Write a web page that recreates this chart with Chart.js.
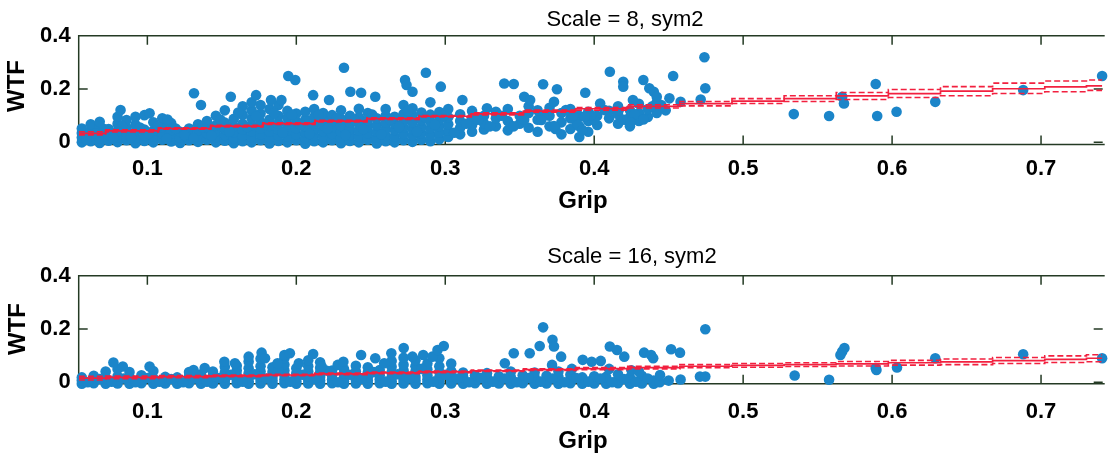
<!DOCTYPE html>
<html>
<head>
<meta charset="utf-8">
<script src="https://cdn.jsdelivr.net/npm/chart.js@4.4.1/dist/chart.umd.min.js"></script>
<style>
  html, body { margin: 0; padding: 0; background: #fff; }
  canvas { display: block; }
</style>
</head>
<body>
<canvas id="chart8" width="1108" height="230"></canvas>
<canvas id="chart16" width="1108" height="231"></canvas>
<script>
// axis ranges and ticks
const gripMin = 0.0539, gripMax = 0.7414;
const gripTicks = [0.1, 0.2, 0.3, 0.4, 0.5, 0.6, 0.7];
const wtfTicks = [0, 0.2, 0.4];

// fitted line + confidence bounds
const fitGrip = [0.054, 0.09, 0.125, 0.16, 0.195, 0.23, 0.265, 0.30, 0.335, 0.37, 0.405,
                 0.44, 0.475, 0.51, 0.545, 0.58, 0.615, 0.65, 0.685, 0.72, 0.741];
const fit8   = [0.034, 0.043, 0.052, 0.061, 0.070, 0.080, 0.089, 0.098, 0.107, 0.117, 0.126,
                0.135, 0.145, 0.155, 0.164, 0.174, 0.183, 0.192, 0.201, 0.208, 0.212];
const upper8 = [0.040, 0.047, 0.055, 0.064, 0.073, 0.083, 0.092, 0.101, 0.111, 0.121, 0.131,
                0.141, 0.153, 0.164, 0.175, 0.187, 0.198, 0.209, 0.222, 0.230, 0.234];
const lower8 = [0.028, 0.039, 0.049, 0.058, 0.067, 0.077, 0.086, 0.095, 0.103, 0.113, 0.121,
                0.129, 0.137, 0.146, 0.153, 0.161, 0.168, 0.175, 0.183, 0.190, 0.195];
const fit16   = [0.015, 0.018, 0.021, 0.024, 0.027, 0.031, 0.035, 0.039, 0.043, 0.047, 0.051,
                 0.055, 0.060, 0.063, 0.066, 0.069, 0.073, 0.076, 0.081, 0.086, 0.090];
const upper16 = [0.022, 0.023, 0.025, 0.027, 0.030, 0.034, 0.038, 0.042, 0.046, 0.050, 0.055,
                 0.060, 0.066, 0.070, 0.073, 0.078, 0.082, 0.087, 0.093, 0.099, 0.103];
const lower16 = [0.008, 0.013, 0.017, 0.021, 0.024, 0.028, 0.032, 0.036, 0.040, 0.044, 0.047,
                 0.050, 0.054, 0.056, 0.059, 0.061, 0.064, 0.066, 0.070, 0.074, 0.077];

// scatter points [grip, wtf], scale = 8
const scale8Points = [
  [0.056,0.000],[0.056,0.018],[0.056,0.035],[0.056,0.052],
  [0.062,0.004],[0.062,0.024],[0.062,0.045],[0.062,0.068],
  [0.068,-0.002],[0.068,0.015],[0.068,0.038],[0.068,0.060],[0.068,0.077],
  [0.074,0.006],[0.074,0.028],[0.074,0.050],
  [0.080,0.001],[0.080,0.020],[0.080,0.042],[0.080,0.070],[0.080,0.096],
  [0.086,0.008],[0.086,0.030],[0.086,0.055],[0.086,0.084],
  [0.092,-0.003],[0.092,0.016],[0.092,0.040],[0.092,0.066],[0.092,0.096],
  [0.098,0.005],[0.098,0.026],[0.098,0.048],[0.098,0.102],
  [0.104,0.000],[0.104,0.022],[0.104,0.044],[0.104,0.075],
  [0.110,0.010],[0.110,0.032],[0.110,0.058],[0.110,0.090],
  [0.116,0.003],[0.116,0.024],[0.116,0.046],[0.116,0.072],
  [0.122,-0.002],[0.122,0.018],[0.122,0.040],
  [0.128,0.008],[0.128,0.030],[0.128,0.052],
  [0.134,0.002],[0.134,0.022],[0.134,0.045],[0.134,0.068],
  [0.140,0.010],[0.140,0.034],[0.140,0.056],[0.140,0.080],
  [0.146,0.000],[0.146,0.020],[0.146,0.042],[0.146,0.064],[0.146,0.100],
  [0.152,0.006],[0.152,0.028],[0.152,0.050],[0.152,0.074],[0.152,0.120],
  [0.158,-0.003],[0.158,0.016],[0.158,0.038],[0.158,0.060],[0.158,0.088],
  [0.164,0.004],[0.164,0.026],[0.164,0.048],[0.164,0.070],[0.164,0.104],[0.164,0.135],
  [0.170,0.000],[0.170,0.020],[0.170,0.042],[0.170,0.064],[0.170,0.090],[0.170,0.120],[0.170,0.150],
  [0.176,0.008],[0.176,0.030],[0.176,0.052],[0.176,0.076],[0.176,0.108],[0.176,0.140],
  [0.182,-0.004],[0.182,0.018],[0.182,0.040],[0.182,0.062],[0.182,0.086],[0.182,0.125],
  [0.188,0.005],[0.188,0.027],[0.188,0.049],[0.188,0.072],[0.188,0.100],[0.188,0.140],
  [0.194,0.000],[0.194,0.022],[0.194,0.044],[0.194,0.066],[0.194,0.092],[0.194,0.118],
  [0.200,0.008],[0.200,0.030],[0.200,0.054],[0.200,0.078],[0.200,0.108],
  [0.206,-0.005],[0.206,0.016],[0.206,0.038],[0.206,0.060],[0.206,0.085],[0.206,0.115],
  [0.212,0.004],[0.212,0.026],[0.212,0.048],[0.212,0.070],[0.212,0.095],[0.212,0.125],
  [0.218,0.000],[0.218,0.020],[0.218,0.042],[0.218,0.064],[0.218,0.090],[0.218,0.110],
  [0.224,0.008],[0.224,0.032],[0.224,0.055],[0.224,0.078],[0.224,0.102],
  [0.230,-0.003],[0.230,0.018],[0.230,0.040],[0.230,0.062],[0.230,0.088],[0.230,0.120],
  [0.236,0.005],[0.236,0.028],[0.236,0.050],[0.236,0.074],[0.236,0.100],
  [0.242,0.000],[0.242,0.022],[0.242,0.044],[0.242,0.068],[0.242,0.094],[0.242,0.126],
  [0.248,0.010],[0.248,0.034],[0.248,0.058],[0.248,0.082],[0.248,0.110],
  [0.254,-0.004],[0.254,0.018],[0.254,0.040],[0.254,0.064],[0.254,0.090],
  [0.260,0.004],[0.260,0.026],[0.260,0.050],[0.260,0.074],[0.260,0.100],[0.260,0.125],
  [0.266,0.000],[0.266,0.022],[0.266,0.046],[0.266,0.070],[0.266,0.096],
  [0.272,0.008],[0.272,0.032],[0.272,0.056],[0.272,0.080],[0.272,0.106],[0.272,0.140],
  [0.278,0.002],[0.278,0.026],[0.278,0.050],[0.278,0.074],[0.278,0.100],[0.278,0.128],
  [0.284,0.010],[0.284,0.034],[0.284,0.058],[0.284,0.084],[0.284,0.112],
  [0.290,0.004],[0.290,0.028],[0.290,0.052],[0.290,0.078],[0.290,0.104],[0.290,0.150],
  [0.296,0.012],[0.296,0.036],[0.296,0.060],[0.296,0.086],[0.296,0.114],
  [0.302,0.020],[0.302,0.044],[0.302,0.068],[0.302,0.094],[0.302,0.125],
  [0.310,0.030],[0.310,0.055],[0.310,0.080],[0.310,0.105],
  [0.318,0.040],[0.318,0.065],[0.318,0.090],[0.318,0.118],
  [0.326,0.048],[0.326,0.072],[0.326,0.100],
  [0.334,0.060],[0.334,0.090],[0.334,0.115],
  [0.342,0.045],[0.342,0.080],[0.342,0.125],
  [0.350,0.070],[0.350,0.100],
  [0.356,0.055],[0.356,0.110],[0.356,0.135],
  [0.362,0.040],[0.362,0.085],[0.362,0.120],
  [0.370,0.060],[0.370,0.100],[0.370,0.130],
  [0.378,0.030],[0.378,0.075],[0.378,0.110],
  [0.384,0.050],[0.384,0.090],[0.384,0.125],
  [0.390,0.020],[0.390,0.060],[0.390,0.100],
  [0.396,0.040],[0.396,0.080],[0.396,0.115],
  [0.402,0.065],[0.402,0.100],
  [0.410,0.090],[0.410,0.118],
  [0.416,0.070],[0.416,0.105],[0.416,0.135],
  [0.424,0.060],[0.424,0.095],[0.424,0.120],
  [0.430,0.080],[0.430,0.110],[0.430,0.145],
  [0.436,0.095],[0.436,0.125],
  [0.442,0.110],[0.442,0.150],
  [0.448,0.120],
  // in-between points of the dense band
  [0.059,0.010],[0.065,0.034],[0.071,0.050],[0.077,0.016],[0.083,0.062],[0.089,0.020],
  [0.095,0.056],[0.101,0.034],[0.107,0.060],[0.113,0.014],[0.119,0.052],[0.125,0.028],
  [0.131,0.016],[0.137,0.058],[0.143,0.026],[0.149,0.086],[0.155,0.040],[0.161,0.112],
  [0.167,0.058],[0.173,0.098],[0.179,0.068],[0.185,0.110],[0.191,0.036],[0.197,0.104],
  [0.203,0.066],[0.209,0.032],[0.215,0.102],[0.221,0.052],[0.227,0.090],[0.233,0.028],
  [0.239,0.084],[0.245,0.050],[0.251,0.104],[0.257,0.030],[0.263,0.086],[0.269,0.058],
  [0.275,0.118],[0.281,0.040],[0.287,0.092],[0.293,0.066],[0.299,0.100],[0.306,0.036],
  [0.314,0.070],[0.322,0.085],[0.330,0.060],[0.338,0.100],[0.346,0.060],[0.353,0.085],
  [0.366,0.100],[0.374,0.050],[0.388,0.075],[0.400,0.085],[0.420,0.085],[0.427,0.105],
  [0.439,0.135],[0.445,0.140],
  // scattered points above the band
  [0.1313,0.184],[0.1946,0.249],[0.1993,0.234],[0.232,0.280],[0.287,0.261],[0.273,0.234],
  [0.274,0.215],[0.297,0.209],[0.3396,0.221],[0.346,0.219],[0.3657,0.218],[0.2113,0.177],
  [0.2363,0.190],[0.2435,0.186],[0.222,0.159],[0.253,0.171],[0.278,0.190],[0.3115,0.159],
  [0.328,0.128],[0.353,0.171],[0.357,0.159],[0.156,0.171],[0.136,0.140],[0.173,0.177],
  [0.190,0.159],[0.183,0.159],[0.082,0.121],[0.1015,0.109],[0.1135,0.086],
  [0.474,0.319],[0.4746,0.203],[0.4105,0.265],[0.4195,0.227],[0.4195,0.209],[0.433,0.234],
  [0.453,0.249],[0.375,0.199],[0.394,0.186],[0.437,0.203],[0.440,0.190],[0.442,0.171],
  [0.4505,0.165],[0.458,0.152],[0.4715,0.161],[0.426,0.159],[0.404,0.146],[0.373,0.152],
  [0.373,0.061],[0.389,0.065],[0.392,0.046],[0.433,0.086],[0.4245,0.075],[0.398,0.102],
  [0.407,0.121],[0.4165,0.121],[0.3645,0.084],[0.381,0.121],[0.386,0.102],[0.3935,0.096],
  [0.4456,0.134],
  [0.534,0.106],[0.5577,0.099],[0.5665,0.171],[0.5677,0.146],[0.589,0.219],[0.590,0.099],
  [0.603,0.115],[0.629,0.152],[0.688,0.196],[0.741,0.249]
];

// scatter points [grip, wtf], scale = 16
const scale16Points = [
  [0.056,-0.006],[0.056,0.006],[0.056,0.018],
  [0.064,-0.004],[0.064,0.010],[0.064,0.024],
  [0.072,-0.006],[0.072,0.004],[0.072,0.016],[0.072,0.040],
  [0.080,-0.005],[0.080,0.008],[0.080,0.022],[0.080,0.050],
  [0.088,-0.006],[0.088,0.006],[0.088,0.020],[0.088,0.038],
  [0.096,-0.004],[0.096,0.010],[0.096,0.026],
  [0.104,-0.006],[0.104,0.004],[0.104,0.016],[0.104,0.042],
  [0.112,-0.005],[0.112,0.008],[0.112,0.020],
  [0.120,-0.006],[0.120,0.006],[0.120,0.018],
  [0.128,-0.004],[0.128,0.010],[0.128,0.024],[0.128,0.038],
  [0.136,-0.006],[0.136,0.004],[0.136,0.016],[0.136,0.030],
  [0.144,-0.005],[0.144,0.008],[0.144,0.022],[0.144,0.040],
  [0.152,-0.006],[0.152,0.006],[0.152,0.020],[0.152,0.036],[0.152,0.058],
  [0.160,-0.004],[0.160,0.010],[0.160,0.026],[0.160,0.044],[0.160,0.062],
  [0.168,-0.006],[0.168,0.004],[0.168,0.018],[0.168,0.034],[0.168,0.052],[0.168,0.078],
  [0.176,-0.005],[0.176,0.008],[0.176,0.022],[0.176,0.040],[0.176,0.060],[0.176,0.088],
  [0.184,-0.006],[0.184,0.006],[0.184,0.020],[0.184,0.038],[0.184,0.056],
  [0.192,-0.004],[0.192,0.010],[0.192,0.026],[0.192,0.044],[0.192,0.066],[0.192,0.090],
  [0.200,-0.006],[0.200,0.004],[0.200,0.018],[0.200,0.034],[0.200,0.052],
  [0.208,-0.005],[0.208,0.008],[0.208,0.022],[0.208,0.040],[0.208,0.060],[0.208,0.082],
  [0.216,-0.006],[0.216,0.006],[0.216,0.020],[0.216,0.036],[0.216,0.054],[0.216,0.075],
  [0.224,-0.004],[0.224,0.010],[0.224,0.026],[0.224,0.044],
  [0.232,-0.006],[0.232,0.004],[0.232,0.018],[0.232,0.034],[0.232,0.050],
  [0.240,-0.005],[0.240,0.008],[0.240,0.022],[0.240,0.040],[0.240,0.062],
  [0.248,-0.006],[0.248,0.006],[0.248,0.020],[0.248,0.036],[0.248,0.056],
  [0.256,-0.004],[0.256,0.010],[0.256,0.026],[0.256,0.046],
  [0.264,-0.006],[0.264,0.004],[0.264,0.018],[0.264,0.036],[0.264,0.058],[0.264,0.080],
  [0.272,-0.005],[0.272,0.008],[0.272,0.024],[0.272,0.044],[0.272,0.066],[0.272,0.092],
  [0.280,-0.006],[0.280,0.006],[0.280,0.020],[0.280,0.040],[0.280,0.060],[0.280,0.082],
  [0.288,-0.004],[0.288,0.010],[0.288,0.026],[0.288,0.048],[0.288,0.070],
  [0.296,-0.006],[0.296,0.004],[0.296,0.018],[0.296,0.038],[0.296,0.060],[0.296,0.090],
  [0.304,-0.005],[0.304,0.008],[0.304,0.022],[0.304,0.042],[0.304,0.070],
  [0.312,-0.006],[0.312,0.006],[0.312,0.020],[0.312,0.036],
  [0.320,-0.004],[0.320,0.010],[0.320,0.026],
  [0.328,-0.006],[0.328,0.004],[0.328,0.018],[0.328,0.034],
  [0.336,-0.005],[0.336,0.008],[0.336,0.022],
  [0.344,-0.006],[0.344,0.006],[0.344,0.020],[0.344,0.040],
  [0.352,-0.004],[0.352,0.010],[0.352,0.026],
  [0.360,-0.006],[0.360,0.004],[0.360,0.018],[0.360,0.036],
  [0.368,-0.005],[0.368,0.008],[0.368,0.024],
  [0.376,-0.006],[0.376,0.006],[0.376,0.020],[0.376,0.040],
  [0.384,-0.004],[0.384,0.010],[0.384,0.028],
  [0.392,-0.006],[0.392,0.004],[0.392,0.018],
  [0.400,-0.005],[0.400,0.008],[0.400,0.022],
  [0.408,-0.006],[0.408,0.006],[0.408,0.020],
  [0.416,-0.004],[0.416,0.010],[0.416,0.030],
  [0.424,-0.006],[0.424,0.004],[0.424,0.018],
  [0.432,-0.005],[0.432,0.008],[0.432,0.024],
  [0.440,-0.006],[0.440,0.006],
  // in-between points of the dense band
  [0.060,0.000],[0.068,0.012],[0.076,0.002],[0.084,0.014],[0.092,0.000],[0.100,0.016],
  [0.108,0.002],[0.116,0.012],[0.124,0.000],[0.132,0.014],[0.140,0.002],[0.148,0.016],
  [0.156,0.028],[0.164,0.002],[0.172,0.030],[0.180,0.014],[0.188,0.046],[0.196,0.002],
  [0.204,0.028],[0.212,0.012],[0.220,0.044],[0.228,0.000],[0.236,0.028],[0.244,0.012],
  [0.252,0.038],[0.260,0.002],[0.268,0.030],[0.276,0.014],[0.284,0.050],[0.292,0.002],
  [0.300,0.028],[0.308,0.014],[0.316,0.000],[0.324,0.016],[0.332,0.002],[0.340,0.014],
  [0.348,0.000],[0.356,0.016],[0.364,0.002],[0.372,0.014],[0.380,0.000],[0.388,0.016],
  [0.396,0.002],[0.404,0.014],[0.412,0.000],[0.420,0.012],[0.428,0.002],[0.436,0.014],
  [0.444,0.000],[0.450,0.006],[0.458,0.010],
  // scattered points above the band
  [0.0772,0.074],[0.0835,0.059],[0.1015,0.059],[0.131,0.046],[0.1385,0.053],[0.1517,0.077],
  [0.1588,0.071],[0.168,0.096],[0.1767,0.111],[0.179,0.090],[0.1874,0.071],[0.192,0.102],
  [0.1957,0.109],[0.2017,0.071],[0.2113,0.106],[0.217,0.059],[0.2278,0.065],[0.2316,0.077],
  [0.2435,0.102],[0.253,0.090],[0.259,0.071],[0.2638,0.109],[0.2721,0.128],[0.278,0.096],
  [0.2852,0.102],[0.2913,0.096],[0.2948,0.121],[0.299,0.136],[0.340,0.071],[0.346,0.109],
  [0.3567,0.109],[0.3634,0.136],[0.3657,0.206],[0.372,0.159],[0.373,0.134],[0.3778,0.096],
  [0.3717,0.065],[0.4746,0.199],[0.4105,0.134],[0.4153,0.121],[0.4202,0.096],[0.3923,0.084],
  [0.3983,0.077],[0.4044,0.080],[0.4335,0.111],[0.4382,0.102],[0.4396,0.090],[0.4516,0.124],
  [0.4576,0.111],[0.471,0.021],[0.4746,0.021],[0.4442,0.027],[0.425,0.045],[0.430,0.040],
  [0.385,0.050],[0.410,0.050],
  [0.5346,0.025],[0.5577,0.009],[0.5665,0.115],[0.568,0.128],[0.5653,0.102],[0.589,0.053],
  [0.5895,0.046],[0.6033,0.055],[0.629,0.090],[0.688,0.105],[0.741,0.090]
];

const dotColor = '#1b85c9';
const fitColor = '#f2203f';
const axisColor = '#243a24';
const fontFamily = '"Liberation Sans", Arial, Helvetica, sans-serif';

function toXY(xs, ys) {
  return xs.map((x, i) => ({ x: x, y: ys[i] }));
}

// MATLAB style box with inward ticks on all four sides
const boxTicks = {
  id: 'boxTicks',
  beforeDatasetsDraw(chart) {
    const ctx = chart.ctx;
    const a = chart.chartArea;
    const xs = chart.scales.x, ys = chart.scales.y;
    ctx.save();
    ctx.strokeStyle = axisColor;
    ctx.lineWidth = 1.5;
    ctx.beginPath();
    ctx.moveTo(a.right + 2, a.top);
    ctx.lineTo(a.left, a.top);
    ctx.lineTo(a.left, a.bottom);
    ctx.lineTo(a.right + 2, a.bottom);
    gripTicks.forEach(v => {
      const px = xs.getPixelForValue(v);
      ctx.moveTo(px, a.bottom); ctx.lineTo(px, a.bottom - 9);
      ctx.moveTo(px, a.top); ctx.lineTo(px, a.top + 9);
    });
    wtfTicks.forEach(v => {
      const py = ys.getPixelForValue(v);
      ctx.moveTo(a.left, py); ctx.lineTo(a.left + 9, py);
      ctx.moveTo(a.right, py); ctx.lineTo(a.right - 9, py);
    });
    ctx.stroke();
    ctx.restore();
  }
};

// title and axis labels
const axisText = {
  id: 'axisText',
  afterDraw(chart, args, opts) {
    const ctx = chart.ctx;
    ctx.save();
    ctx.fillStyle = '#000';
    ctx.textAlign = 'center';
    ctx.textBaseline = 'alphabetic';
    ctx.font = '22px ' + fontFamily;
    ctx.fillText(opts.title, opts.titleX, opts.titleY);
    ctx.font = 'bold 24px ' + fontFamily;
    ctx.fillText('Grip', opts.xlabX, opts.xlabY);
    ctx.translate(opts.ylabX, opts.ylabY);
    ctx.rotate(-Math.PI / 2);
    ctx.textBaseline = 'middle';
    ctx.fillText('WTF', 0, 0);
    ctx.restore();
  }
};

function buildChart(id, pts, fit, upper, lower, cfg) {
  const lineBase = { type: 'line', pointRadius: 0, borderColor: fitColor, fill: false,
                     stepped: 'middle', borderWidth: 1.6 };
  return new Chart(document.getElementById(id), {
    type: 'scatter',
    data: {
      datasets: [
        Object.assign({}, lineBase, { data: toXY(fitGrip, fit), borderWidth: 1.7 }),
        Object.assign({}, lineBase, { data: toXY(fitGrip, upper), borderDash: [6, 3] }),
        Object.assign({}, lineBase, { data: toXY(fitGrip, lower), borderDash: [6, 3] }),
        {
          data: pts.map(p => ({ x: p[0], y: p[1] })),
          backgroundColor: dotColor,
          borderColor: dotColor,
          borderWidth: 0,
          pointRadius: 5.3,
          pointHoverRadius: 5.3,
          clip: false
        }
      ]
    },
    options: {
      responsive: false,
      animation: false,
      events: [],
      layout: { padding: { left: 0, right: 0, top: cfg.top, bottom: 0 } },
      plugins: {
        legend: { display: false },
        tooltip: { enabled: false },
        axisText: cfg.text
      },
      scales: {
        x: {
          type: 'linear',
          min: gripMin,
          max: gripMax,
          afterBuildTicks: s => { s.ticks = gripTicks.map(v => ({ value: v })); },
          afterFit: s => { s.height = cfg.xAxisHeight; },
          grid: { display: false, drawTicks: false },
          border: { display: false },
          ticks: {
            padding: cfg.xPad,
            color: '#000',
            maxRotation: 0,
            font: { family: fontFamily, size: 22, weight: 'bold' },
            callback: v => String(v)
          }
        },
        y: {
          type: 'linear',
          min: cfg.yMin,
          max: 0.4,
          afterBuildTicks: s => { s.ticks = wtfTicks.map(v => ({ value: v })); },
          afterFit: s => { s.width = 78.7; },
          grid: { display: false, drawTicks: false },
          border: { display: false },
          ticks: {
            padding: 8,
            color: '#000',
            font: { family: fontFamily, size: 22, weight: 'bold' },
            callback: v => String(v)
          }
        }
      }
    },
    plugins: [boxTicks, axisText]
  });
}

buildChart('chart8', scale8Points, fit8, upper8, lower8, {
  top: 35.7, xAxisHeight: 85.5, xPad: 11, yMin: -0.008,
  text: { title: 'Scale = 8, sym2', titleX: 625, titleY: 26, xlabX: 583, xlabY: 208, ylabX: 17, ylabY: 86 }
});
buildChart('chart16', scale16Points, fit16, upper16, lower16, {
  top: 45.7, xAxisHeight: 77.2, xPad: 15, yMin: -0.006,
  text: { title: 'Scale = 16, sym2', titleX: 632, titleY: 33, xlabX: 583, xlabY: 218, ylabX: 18, ylabY: 99 }
});
</script>
</body>
</html>
